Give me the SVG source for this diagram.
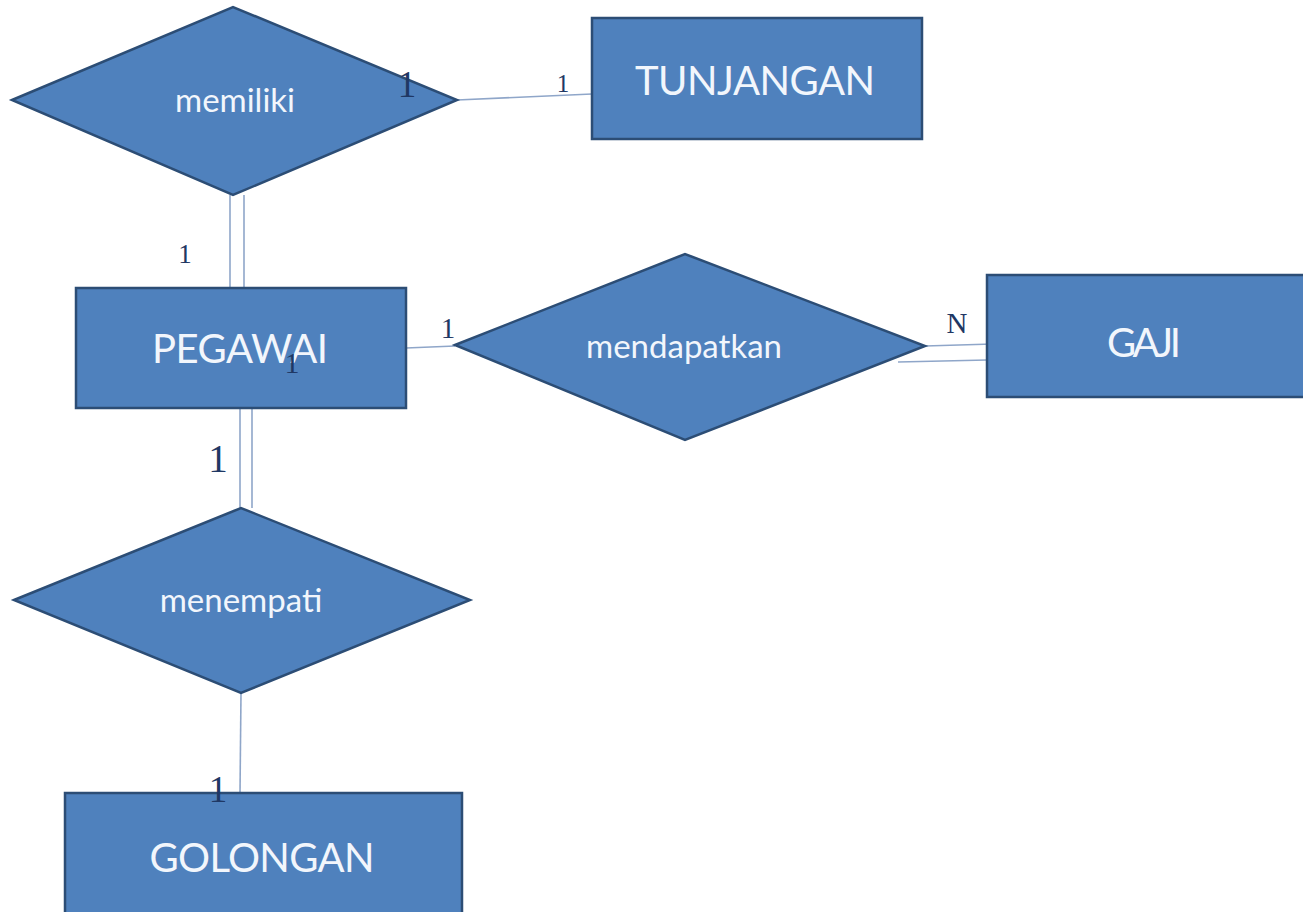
<svg xmlns="http://www.w3.org/2000/svg" width="1303" height="912" viewBox="0 0 1303 912">
<style>
.shape{fill:#4f81bd;stroke:#2c4d75;stroke-width:2.5}
.lbl{font-family:Lato,"Open Sans","Liberation Sans",sans-serif;fill:#f2f6fc;text-anchor:middle}
.ent{font-size:40px}
.rel{font-size:33px}
.conn{stroke:#8fa6c9;stroke-width:1.6;fill:none}
.card{font-family:"Liberation Serif",serif;fill:#1f3864;text-anchor:middle}
</style>
<rect width="1303" height="912" fill="#ffffff"/>
<g id="connectors">
<line class="conn" x1="457" y1="100" x2="592" y2="94"/>
<line class="conn" x1="230" y1="195" x2="230" y2="288"/>
<line class="conn" x1="244" y1="195" x2="244" y2="288"/>
<line class="conn" x1="406" y1="348" x2="455" y2="346"/>
<line class="conn" x1="925" y1="346" x2="1027" y2="343"/>
<line class="conn" x1="898" y1="362" x2="987" y2="360"/>
<line class="conn" x1="240" y1="408" x2="240" y2="508"/>
<line class="conn" x1="252" y1="408" x2="252" y2="508"/>
<line class="conn" x1="241" y1="693" x2="240" y2="793"/>
</g>
<g id="memiliki">
<polygon class="shape" points="12,100 233,7 457,100 233,195"/>
<text class="lbl rel" x="235" y="112">memiliki</text>
</g>
<g id="tunjangan">
<rect class="shape" x="592" y="18" width="330" height="121"/>
<text class="lbl ent" x="755" y="95" textLength="240">TUNJANGAN</text>
</g>
<g id="pegawai">
<rect class="shape" x="76" y="288" width="330" height="120"/>
<text class="lbl ent" x="240" y="363" textLength="176">PEGAWAI</text>
</g>
<g id="mendapatkan">
<polygon class="shape" points="455,345 685,254 925,346 685,440"/>
<text class="lbl rel" x="684" y="358">mendapatkan</text>
</g>
<g id="gaji">
<rect class="shape" x="987" y="275" width="330" height="122"/>
<text class="lbl ent" x="1144" y="357" textLength="74">GAJI</text>
</g>
<g id="menempati">
<polygon class="shape" points="14,600 241,508 470,600 241,693"/>
<text class="lbl rel" x="241" y="612">menempati</text>
</g>
<g id="golongan">
<rect class="shape" x="65" y="793" width="397" height="130"/>
<text class="lbl ent" x="262" y="872" textLength="225">GOLONGAN</text>
</g>
<g id="cardinalities">
<text class="card" x="407" y="97" font-size="37">1</text>
<text class="card" x="563" y="92" font-size="25">1</text>
<text class="card" x="185" y="263" font-size="27">1</text>
<text class="card" x="292" y="373" font-size="30">1</text>
<text class="card" x="448" y="338" font-size="29">1</text>
<text class="card" x="957" y="333" font-size="29">N</text>
<text class="card" x="218" y="472" font-size="39">1</text>
<text class="card" x="218" y="802" font-size="37">1</text>
</g>
</svg>
